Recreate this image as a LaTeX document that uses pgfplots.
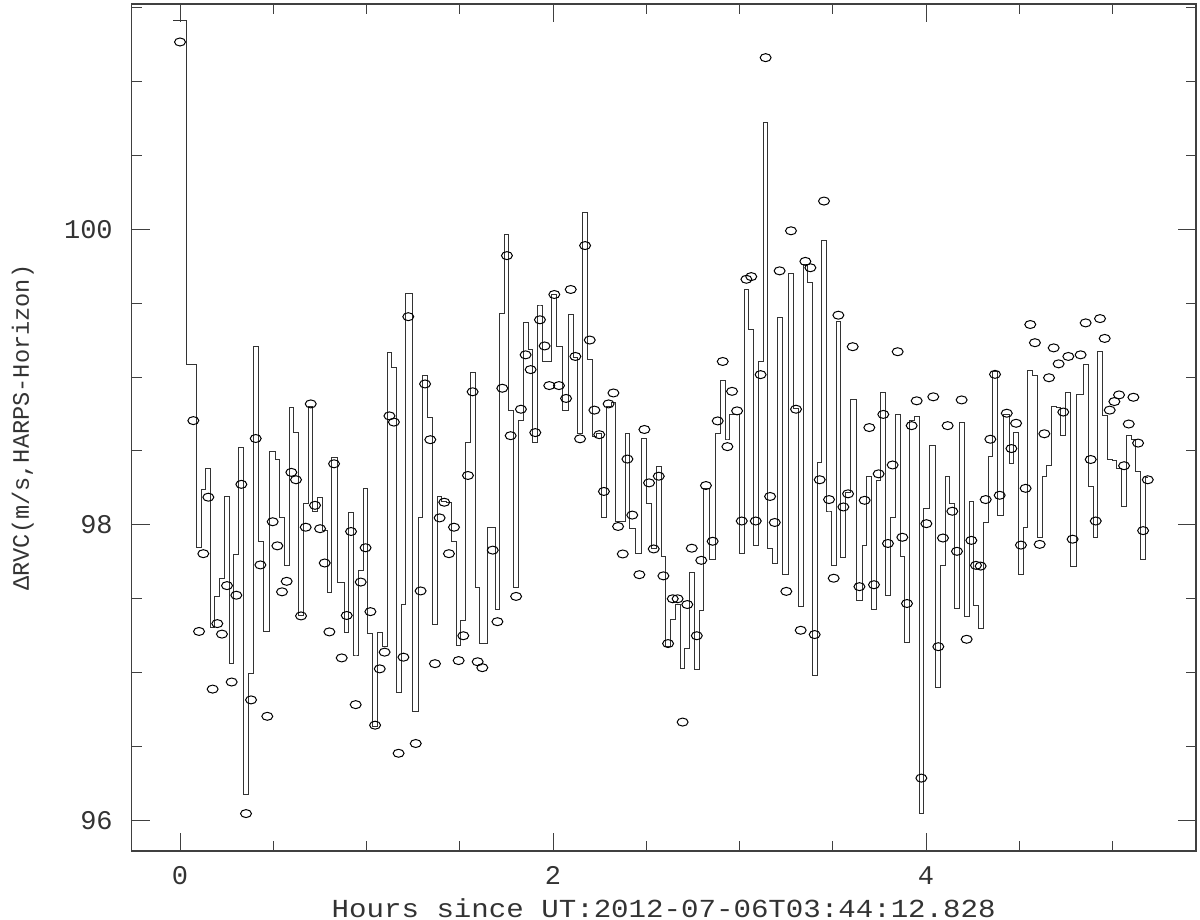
\documentclass[border=0pt]{standalone}
\usepackage{pgfplots}
\usepackage{pgfplotstable}
\pgfplotsset{compat=1.18}
\usepackage{fontspec}
\setmainfont{Liberation Mono}
\begin{document}
\pgfplotstableread{
x c s
0.000 101.266 101.408
0.0715 98.705 99.087
0.102 97.279 97.850
0.125 97.805 98.237
0.152 98.187 98.384
0.175 96.889 97.303
0.200 97.332 97.516
0.225 97.261 97.639
0.252 97.589 98.192
0.277 96.937 97.061
0.302 97.524 97.797
0.329 98.274 98.521
0.354 96.047 96.179
0.381 96.816 96.995
0.406 98.584 99.205
0.431 97.729 97.889
0.468 96.705 97.276
0.497 98.021 98.495
0.522 97.858 98.442
0.547 97.547 98.047
0.572 97.618 97.726
0.597 98.355 98.797
0.622 98.305 98.626
0.649 97.384 97.389
0.674 97.984 98.147
0.701 98.818 98.803
0.724 98.132 98.092
0.751 97.974 98.184
0.776 97.742 97.963
0.801 97.276 97.542
0.826 98.413 98.455
0.867 97.100 97.613
0.894 97.387 97.271
0.917 97.955 98.082
0.942 96.784 97.113
0.969 97.613 97.692
0.995 97.845 98.245
1.021 97.413 97.263
1.046 96.645 96.639
1.071 97.026 97.271
1.097 97.139 97.174
1.123 98.737 99.166
1.147 98.695 99.066
1.172 96.455 96.863
1.198 97.105 97.463
1.224 99.408 99.568
1.264 96.521 96.737
1.290 97.553 98.047
1.314 98.953 99.013
1.342 98.576 98.724
1.367 97.061 97.324
1.392 98.047 98.192
1.417 98.153 98.160
1.442 97.805 98.150
1.469 97.984 97.889
1.494 97.082 97.184
1.519 97.250 97.355
1.544 98.334 98.555
1.569 98.900 99.029
1.596 97.074 97.574
1.621 97.034 97.197
1.677 97.829 97.982
1.702 97.345 97.429
1.728 98.924 99.429
1.753 99.821 99.963
1.773 98.603 98.776
1.802 97.516 97.574
1.828 98.782 98.705
1.853 99.150 99.371
1.880 99.050 99.184
1.905 98.624 98.555
1.930 99.387 99.487
1.955 99.210 99.108
1.980 98.942 99.108
2.007 99.558 99.555
2.032 98.942 99.205
2.070 98.855 98.771
2.095 99.592 99.421
2.120 99.139 99.134
2.145 98.582 98.618
2.172 99.889 100.113
2.197 99.250 99.121
2.222 98.776 98.595
2.248 98.610 98.618
2.273 98.226 98.047
2.298 98.818 98.803
2.324 98.892 98.829
2.349 97.989 98.021
2.374 97.803 98.021
2.399 98.445 98.618
2.425 98.066 97.976
2.463 97.663 97.803
2.490 98.645 98.582
2.515 98.284 98.147
2.540 97.837 97.837
2.567 98.329 98.395
2.592 97.655 97.784
2.617 97.197 97.179
2.642 97.500 97.363
2.668 97.500 97.461
2.695 96.666 97.026
2.720 97.461 97.166
2.744 97.842 97.679
2.771 97.250 97.021
2.795 97.760 97.421
2.820 98.266 98.245
2.856 97.889 97.763
2.883 98.703 98.618
2.910 99.105 98.976
2.935 98.529 98.574
2.960 98.903 98.745
2.987 98.771 98.745
3.012 98.026 97.805
3.037 99.661 99.595
3.063 99.679 99.324
3.087 98.026 97.863
3.113 99.016 99.108
3.140 101.160 100.724
3.164 98.192 97.837
3.189 98.016 97.739
3.215 99.718 99.403
3.251 97.550 97.666
3.276 99.989 99.697
3.303 98.782 98.784
3.328 97.287 97.447
3.353 99.782 99.758
3.380 99.739 99.639
3.403 97.258 96.982
3.430 98.305 98.424
3.453 100.190 99.924
3.480 98.171 98.087
3.505 97.639 97.726
3.530 99.418 99.376
3.557 98.121 97.779
3.582 98.210 98.218
3.607 99.205 98.850
3.643 97.582 97.489
3.671 98.166 97.863
3.696 98.658 98.329
3.721 97.595 97.429
3.746 98.345 98.303
3.771 98.747 98.895
3.796 97.874 97.521
3.821 98.405 98.047
3.848 99.171 98.745
3.873 97.916 97.784
3.898 97.468 97.205
3.923 98.671 98.705
3.950 98.839 98.732
3.975 96.287 96.047
4.002 98.008 98.113
4.039 98.866 98.539
4.066 97.176 96.903
4.091 97.911 97.724
4.116 98.671 98.329
4.141 98.092 98.145
4.166 97.821 97.434
4.191 98.845 98.692
4.218 97.226 97.382
4.243 97.895 98.161
4.268 97.726 97.455
4.293 97.721 97.297
4.320 98.171 98.013
4.345 98.579 98.461
4.370 99.018 99.034
4.395 98.200 98.061
4.433 98.755 98.745
4.458 98.516 98.416
4.483 98.687 98.626
4.509 97.863 97.661
4.534 98.247 97.982
4.559 99.355 99.042
4.584 99.232 99.013
4.6095 97.868 97.916
4.6345 98.616 98.324
4.6595 98.995 98.403
4.6845 99.197 98.803
4.711 99.089 98.792
4.736 98.763 98.605
4.763 99.139 98.895
4.786 97.903 97.718
4.829 99.150 98.882
4.856 99.366 99.087
4.883 98.442 98.258
4.910 98.026 97.916
4.933 99.395 99.171
4.958 99.261 98.739
4.985 98.776 98.442
5.010 98.834 98.437
5.035 98.879 98.384
5.062 98.400 98.126
5.087 98.682 98.605
5.112 98.863 98.579
5.137 98.553 98.358
5.164 97.961 97.763
5.189 98.305 98.320
}\rv
\begin{tikzpicture}
\path[use as bounding box] (-65.85pt,-34.35pt) rectangle (534.15pt,425.65pt);
\begin{axis}[
  at={(0pt,0pt)}, anchor=south west,
  scale only axis, width=532pt, height=423.65pt,
  xmin=-0.259, xmax=5.446, ymin=95.792, ymax=101.523,
  xtick={0,2,4}, ytick={96,98,100},
  minor xtick={0.5,1,1.5,2.5,3,3.5,4.5,5},
  minor ytick={96.5,97,97.5,98.5,99,99.5,100.5,101,101.5},
  major tick length=9pt, minor tick length=5pt,
  tick style={black!75, line width=0.5pt},
  axis line style={black!75, line width=0.8pt},
  tick align=inside,
  /pgf/number format/assume math mode=true,
  ticklabel style={font=\fontsize{13.5}{13.5}\selectfont, text=black!80},
  xticklabel style={inner sep=0pt, anchor=north, yshift=-7.5pt},
  yticklabel style={inner sep=0pt, anchor=east, xshift=-9.3pt},
  xlabel={Hours since UT:2012-07-06T03:44:12.828},
  ylabel={ΔRVC(m/s,HARPS-Horizon)},
  xlabel style={at={(axis description cs:0.5,-0.0785)}, anchor=base, inner sep=0pt, xscale=1.12, font=\fontsize{13}{13}\selectfont, text=black!80},
  ylabel style={at={(axis description cs:-0.1023,0.5)}, anchor=center, inner sep=0pt, font=\fontsize{11.8}{11.8}\selectfont, text=black!80},
  clip=false,
]
\addplot[const plot mark mid, black!80, line width=0.5pt, no markers] table[x=x, y=s] {\rv};
\addplot[black!80, line width=0.5pt, no markers] coordinates {(-0.036,101.408) (0,101.408)};
\addplot[only marks, mark=o, mark size=2pt, mark options={xscale=1.37, line width=0.5pt, black}] table[x=x, y=c] {\rv};
\end{axis}
\end{tikzpicture}
\end{document}
